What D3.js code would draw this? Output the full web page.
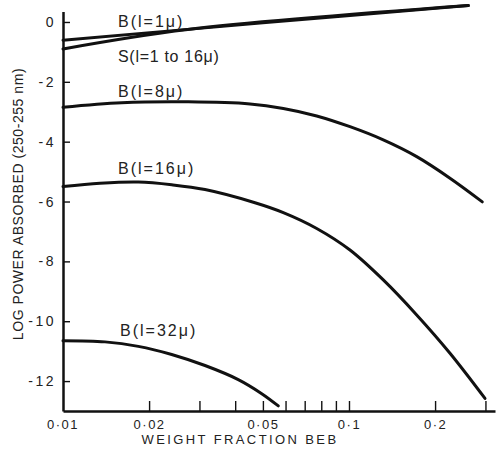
<!DOCTYPE html>
<html>
<head>
<meta charset="utf-8">
<script src="https://cdn.jsdelivr.net/npm/d3@7"></script>
<style>
  html, body { margin: 0; padding: 0; background: #fff; }
  svg { display: block; font-family: "Liberation Sans", Arial, sans-serif; }
  .axis path, .axis line { stroke: #111; }
  .axis text { fill: #222; }
</style>
</head>
<body>
<svg id="chart" width="500" height="450"></svg>
<script>
// Log power absorbed vs. weight fraction of BEB, for several thicknesses
const xTickValues = [0.02, 0.03, 0.04, 0.05, 0.06, 0.07, 0.08, 0.09, 0.1, 0.2, 0.3];
const xTickLabels = { 0.01: "0·01", 0.02: "0·02", 0.05: "0·05", 0.1: "0·1", 0.2: "0·2" };
const yTickValues = [0, -2, -4, -6, -8, -10, -12];

const fractionB1  = [0.01, 0.05, 0.2613];
const logPowerB1  = [-0.61, -0.03, 0.55];

const fractionS   = [0.01, 0.0273, 0.2613];
const logPowerS   = [-0.90, -0.25, 0.55];

const fractionB8  = [0.01, 0.01604, 0.02742, 0.04508, 0.05893, 0.07712, 0.1008, 0.1318, 0.1725, 0.2255, 0.2925];
const logPowerB8  = [-2.85, -2.70, -2.67, -2.74, -2.89, -3.14, -3.50, -3.94, -4.50, -5.22, -6.01];

const fractionB16 = [0.01, 0.01347, 0.01834, 0.02399, 0.03137, 0.04692, 0.05893, 0.07712, 0.1008, 0.1318, 0.1725, 0.2255, 0.2989];
const logPowerB16 = [-5.50, -5.39, -5.35, -5.44, -5.60, -6.04, -6.37, -6.90, -7.62, -8.62, -9.79, -11.07, -12.58];

const fractionB32 = [0.01, 0.01402, 0.01834, 0.02399, 0.03137, 0.0410, 0.04953, 0.05661];
const logPowerB32 = [-10.65, -10.69, -10.84, -11.11, -11.48, -11.95, -12.42, -12.83];

const curveLabels = [
  { text: "B(l=1μ)",        x: 118, y: 26.5,  spacing: 2 },
  { text: "S(l=1 to 16μ)",  x: 118, y: 61.5,  spacing: 0.7 },
  { text: "B(l=8μ)",        x: 118, y: 96.5,  spacing: 2 },
  { text: "B(l=16μ)",       x: 118, y: 174,   spacing: 2 },
  { text: "B(l=32μ)",       x: 120, y: 335.5, spacing: 2 }
];

const svg = d3.select("#chart");

const x = d3.scaleLog().domain([0.01, 0.324]).range([63, 495]);
const y = d3.scaleLinear().domain([-13, 0.35]).range([411, 11.5]);

// x axis: ticks point up into the plot
const xAxis = d3.axisBottom(x)
  .tickValues(xTickValues)
  .tickSize(-10)
  .tickSizeOuter(0)
  .tickPadding(9)
  .tickFormat(d => xTickLabels[d] || "");

const gx = svg.append("g")
  .attr("class", "axis")
  .attr("transform", `translate(0,${y(-13)})`)
  .call(xAxis);
gx.select(".domain").attr("stroke-width", 2.5);
gx.selectAll(".tick line").attr("stroke-width", 1.4);
gx.selectAll(".tick text")
  .attr("font-size", 13)
  .attr("letter-spacing", "1.5px");

// label for the left end of the x axis
gx.append("text")
  .attr("x", x(0.01))
  .attr("y", 9)
  .attr("dy", "0.71em")
  .attr("text-anchor", "middle")
  .attr("font-size", 13)
  .attr("letter-spacing", "1.5px")
  .attr("fill", "#222")
  .text(xTickLabels[0.01]);

// y axis: ticks point right into the plot
const yAxis = d3.axisLeft(y)
  .tickValues(yTickValues)
  .tickSize(-7)
  .tickSizeOuter(0)
  .tickPadding(7)
  .tickFormat(d => d === 0 ? "0" : "-" + Math.abs(d));

const gy = svg.append("g")
  .attr("class", "axis")
  .attr("transform", `translate(${x(0.01)},0)`)
  .call(yAxis);
gy.select(".domain").attr("stroke-width", 2.5);
gy.selectAll(".tick line").attr("stroke-width", 1.4);
gy.selectAll(".tick text")
  .attr("font-size", 14)
  .attr("letter-spacing", "2.5px");

// axis titles
svg.append("text")
  .attr("x", 240)
  .attr("y", 444)
  .attr("text-anchor", "middle")
  .attr("font-size", 13)
  .attr("letter-spacing", "2.4px")
  .attr("fill", "#222")
  .text("WEIGHT FRACTION BEB");

svg.append("text")
  .attr("transform", "translate(23,204) rotate(-90)")
  .attr("text-anchor", "middle")
  .attr("font-size", 14)
  .attr("letter-spacing", "0.55px")
  .attr("fill", "#222")
  .text("LOG POWER ABSORBED (250-255 nm)");

// curves
const line = d3.line()
  .x(d => x(d[0]))
  .y(d => y(d[1]))
  .curve(d3.curveCatmullRom.alpha(0.5));

const series = [
  d3.zip(fractionB1, logPowerB1),
  d3.zip(fractionS, logPowerS),
  d3.zip(fractionB8, logPowerB8),
  d3.zip(fractionB16, logPowerB16),
  d3.zip(fractionB32, logPowerB32)
];

svg.append("g")
  .selectAll("path")
  .data(series)
  .join("path")
  .attr("d", line)
  .attr("fill", "none")
  .attr("stroke", "#111")
  .attr("stroke-width", 3)
  .attr("stroke-linecap", "round");

svg.append("g")
  .selectAll("text")
  .data(curveLabels)
  .join("text")
  .attr("x", d => d.x)
  .attr("y", d => d.y)
  .attr("font-size", 16)
  .attr("letter-spacing", d => d.spacing + "px")
  .attr("fill", "#222")
  .text(d => d.text);
</script>
</body>
</html>
